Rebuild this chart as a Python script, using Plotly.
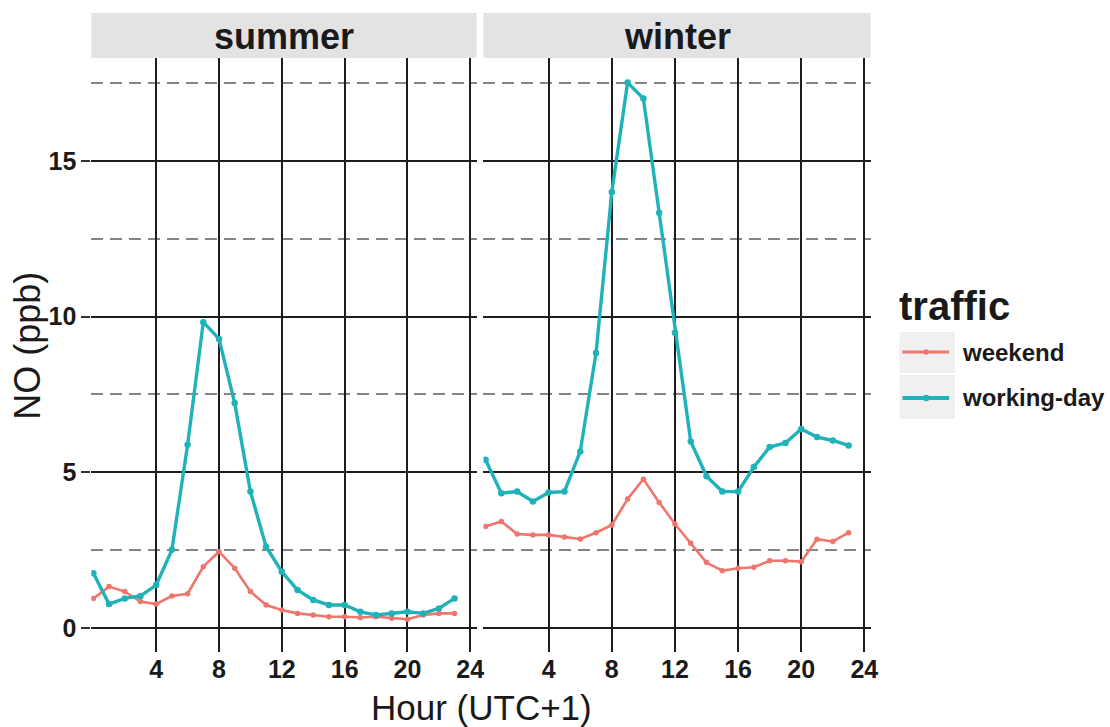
import plotly.graph_objects as go

# ---------------- data ----------------
hours = list(range(24))
summer_weekend = [0.95, 1.33, 1.17, 0.85, 0.77, 1.03, 1.10, 1.97, 2.45, 1.92, 1.17, 0.74,
                  0.58, 0.47, 0.42, 0.36, 0.36, 0.34, 0.36, 0.31, 0.28, 0.42, 0.47, 0.47]
summer_working = [1.76, 0.77, 0.95, 1.03, 1.38, 2.51, 5.88, 9.82, 9.28, 7.22, 4.38, 2.61,
                  1.81, 1.22, 0.90, 0.74, 0.74, 0.52, 0.42, 0.47, 0.52, 0.47, 0.63, 0.95]
winter_weekend = [3.26, 3.42, 3.02, 2.99, 2.99, 2.92, 2.86, 3.06, 3.31, 4.14, 4.78, 4.03,
                  3.34, 2.72, 2.10, 1.84, 1.92, 1.95, 2.16, 2.16, 2.13, 2.85, 2.78, 3.06]
winter_working = [5.40, 4.33, 4.38, 4.06, 4.35, 4.38, 5.67, 8.83, 14.00, 17.51, 17.00, 13.33,
                  9.48, 5.99, 4.87, 4.38, 4.38, 5.17, 5.81, 5.94, 6.39, 6.13, 6.02, 5.86]

panels = ["summer", "winter"]
series_names = ["weekend", "working-day"]
x_ticks = [4, 8, 12, 16, 20, 24]
y_ticks = [0, 5, 10, 15]
y_minor = [2.5, 7.5, 12.5, 17.5]

data = {
    ("summer", "weekend"): summer_weekend,
    ("summer", "working-day"): summer_working,
    ("winter", "weekend"): winter_weekend,
    ("winter", "working-day"): winter_working,
}

colors = {"weekend": "#F0756C", "working-day": "#1FB2B8"}
line_w = {"weekend": 2.6, "working-day": 3.4}
mark_s = {"weekend": 5.5, "working-day": 6.5}

FONT = "Liberation Sans, Arial, sans-serif"
W, H = 1110, 727

fig = go.Figure()
for pi, panel in enumerate(panels):
    suffix = "" if pi == 0 else "2"
    for s in series_names:
        fig.add_trace(go.Scatter(
            x=hours, y=data[(panel, s)], mode="lines+markers", name=s,
            line=dict(color=colors[s], width=line_w[s]),
            marker=dict(color=colors[s], size=mark_s[s]),
            xaxis="x" + suffix, yaxis="y" + suffix, showlegend=False,
        ))

def px_x(p):
    return p / W

def px_y(p):
    return (H - p) / H

panel_top, panel_bot = 58, 652
strip_top = 13
summer_dom = [px_x(92), px_x(480)]
winter_dom = [px_x(487), px_x(877)]
ydom = [px_y(panel_bot), px_y(panel_top)]

grid_major = dict(showgrid=True, gridcolor="#1e1e1e", gridwidth=1.6, zeroline=False, showline=False)
tickfont = dict(family=FONT, size=25, color="#1a1a1a", weight="bold")
minor_grid = dict(tickmode="array", tickvals=y_minor, showgrid=True, gridcolor="#858585",
                  gridwidth=1.8, griddash="12px,7px", ticks="")

xcommon = dict(range=[-0.13, 24.4], tickmode="array", tickvals=x_ticks, ticks="",
               tickfont=tickfont, **grid_major)
fig.update_layout(
    width=W, height=H, margin=dict(l=0, r=0, t=0, b=0),
    paper_bgcolor="white", plot_bgcolor="white",
    xaxis=dict(domain=summer_dom, anchor="y", **xcommon),
    xaxis2=dict(domain=winter_dom, anchor="y2", **xcommon),
    yaxis=dict(domain=ydom, anchor="x", range=[-0.77, 18.3], tickmode="array", tickvals=y_ticks,
               ticks="outside", ticklen=9, tickwidth=1.6, tickcolor="#333333",
               tickfont=tickfont, minor=minor_grid, **grid_major),
    yaxis2=dict(domain=ydom, anchor="x2", matches="y", range=[-0.77, 18.3], tickmode="array",
                tickvals=y_ticks, showticklabels=False, ticks="", minor=minor_grid,
                **grid_major),
)

shapes = []
annotations = []
# strips
for dom, panel in zip([summer_dom, winter_dom], panels):
    shapes.append(dict(type="rect", xref="paper", yref="paper", x0=dom[0], x1=dom[1],
                       y0=px_y(panel_top), y1=px_y(strip_top), fillcolor="#e3e3e3",
                       line=dict(width=0), layer="below"))
    annotations.append(dict(text=panel, xref="paper", yref="paper", x=(dom[0] + dom[1]) / 2,
                            y=px_y(37), xanchor="center", yanchor="middle", showarrow=False,
                            font=dict(family=FONT, size=36, color="#1a1a1a", weight="bold")))

# axis titles
annotations.append(dict(text="Hour (UTC+1)", xref="paper", yref="paper", x=px_x(485), y=px_y(707),
                        xanchor="center", yanchor="middle", showarrow=False,
                        font=dict(family=FONT, size=35, color="#1a1a1a")))
annotations.append(dict(text="NO (ppb)", xref="paper", yref="paper", x=px_x(27), y=px_y(346),
                        xanchor="center", yanchor="middle", showarrow=False, textangle=-90,
                        font=dict(family=FONT, size=36, color="#1a1a1a")))

# legend (drawn manually, ggplot style)
annotations.append(dict(text="traffic", xref="paper", yref="paper", x=px_x(904), y=px_y(306),
                        xanchor="left", yanchor="middle", showarrow=False,
                        font=dict(family=FONT, size=40, color="#1a1a1a", weight="bold")))
key_rows = [(332, 373, 352), (375, 419, 398)]
for s, (y0, y1, yc) in zip(series_names, key_rows):
    shapes.append(dict(type="rect", xref="paper", yref="paper", x0=px_x(906), x1=px_x(962),
                       y0=px_y(y1), y1=px_y(y0), fillcolor="#f0f0f0", line=dict(width=0)))
    shapes.append(dict(type="line", xref="paper", yref="paper", x0=px_x(909), x1=px_x(956),
                       y0=px_y(yc), y1=px_y(yc), line=dict(color=colors[s], width=line_w[s] + 0.6)))
    r = mark_s[s] / 2
    shapes.append(dict(type="circle", xref="paper", yref="paper", x0=px_x(933 - r), x1=px_x(933 + r),
                       y0=px_y(yc + r), y1=px_y(yc - r), fillcolor=colors[s], line=dict(width=0)))
    annotations.append(dict(text=s, xref="paper", yref="paper", x=px_x(967), y=px_y(yc),
                            xanchor="left", yanchor="middle", showarrow=False,
                            font=dict(family=FONT, size=24, color="#1a1a1a", weight="bold")))

fig.update_layout(shapes=shapes, annotations=annotations)
fig.write_html("out.html")
